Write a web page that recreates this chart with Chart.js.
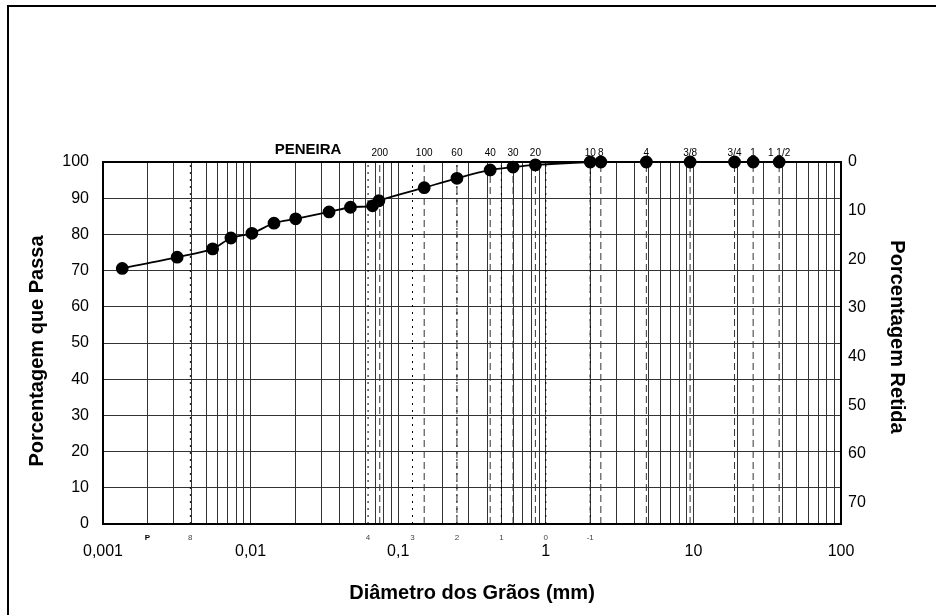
<!DOCTYPE html>
<html>
<head>
<meta charset="utf-8">
<script src="https://cdn.jsdelivr.net/npm/chart.js@4.4.1/dist/chart.umd.min.js"></script>
<style>
  html, body { margin: 0; padding: 0; background: #fff; }
  #wrap { width: 936px; height: 615px; }
</style>
</head>
<body>
<div id="wrap"><canvas id="curva"></canvas></div>
<script>
// curva granulometrica
const diametros = [0.00135, 0.00318, 0.00553, 0.00736, 0.0102, 0.0144, 0.0202, 0.034, 0.0475, 0.067, 0.074,
  0.15, 0.25, 0.42, 0.6, 0.85, 2.0, 2.36, 4.8, 9.5, 19, 25.4, 38.1];
const passante = [70.6, 73.7, 76.0, 79.0, 80.3, 83.1, 84.3, 86.2, 87.5, 87.9, 89.3,
  92.9, 95.5, 97.8, 98.6, 99.2, 100, 100, 100, 100, 100, 100, 100];

// peneiras (numero e abertura em mm)
const peneiras = ["200", "100", "60", "40", "30", "20", "10", "8", "4", "3/8", "3/4", "1", "1 1/2"];
const aberturas = [0.075, 0.15, 0.25, 0.42, 0.6, 0.85, 2.0, 2.36, 4.8, 9.5, 19, 25.4, 38.1];

// escala phi
const phiLabels = ["P", "8", "4", "3", "2", "1", "0", "-1"];
const phiDiam = [0.002, 0.00390625, 0.0625, 0.125, 0.25, 0.5, 1, 2];

const decadas = [0.001, 0.01, 0.1, 1, 10, 100];
const yTicks = [0, 10, 20, 30, 40, 50, 60, 70, 80, 90, 100];

const FONT = "'Liberation Sans', Arial, sans-serif";

const linhasPeneira = aberturas.map(a => ({
  data: [{ x: a, y: 0 }, { x: a, y: 100 }],
  showLine: true,
  borderColor: "#333",
  borderWidth: 1,
  borderDash: [7, 4],
  pointRadius: 0,
}));

const linhasPhi = phiDiam.slice(1).map(a => ({
  data: [{ x: a, y: 0 }, { x: a, y: 100 }],
  showLine: true,
  borderColor: "#000",
  borderWidth: 1,
  borderDash: [2, 5],
  pointRadius: 0,
}));

function tituloVertical(ctx, text, x, y, ang) {
  ctx.save();
  ctx.translate(x, y);
  ctx.rotate(ang);
  ctx.fillText(text, 0, 0);
  ctx.restore();
}

const moldura = {
  id: "moldura",
  beforeDraw(chart) {
    const { ctx, width, height } = chart;
    ctx.save();
    ctx.fillStyle = "#fff";
    ctx.fillRect(0, 0, width, height);
    ctx.strokeStyle = "#000";
    ctx.lineWidth = 2;
    ctx.beginPath();
    ctx.moveTo(8, height);
    ctx.lineTo(8, 6);
    ctx.lineTo(width, 6);
    ctx.stroke();
    ctx.restore();
  },
  afterDatasetsDraw(chart) {
    const { ctx, chartArea: a } = chart;
    ctx.save();
    ctx.strokeStyle = "#000";
    ctx.lineWidth = 2;
    ctx.strokeRect(a.left, a.top, a.right - a.left, a.bottom - a.top);
    ctx.restore();
  },
  afterDraw(chart) {
    const { ctx, chartArea: a } = chart;
    const x = chart.scales.x;
    ctx.save();
    ctx.fillStyle = "#000";
    ctx.textAlign = "center";
    ctx.textBaseline = "middle";
    ctx.font = "bold 15px " + FONT;
    ctx.fillText("PENEIRA", 308, a.top - 12);
    ctx.font = "10px " + FONT;
    peneiras.forEach((p, i) => {
      ctx.fillText(p, x.getPixelForValue(aberturas[i]), a.top - 9);
    });
    phiLabels.forEach((p, i) => {
      ctx.font = (p === "P" ? "bold 8px " : "8px ") + FONT;
      ctx.fillStyle = p === "P" ? "#000" : "#444";
      ctx.fillText(p, x.getPixelForValue(phiDiam[i]), a.bottom + 14);
    });
    // titulos dos eixos verticais
    ctx.fillStyle = "#000";
    ctx.font = "bold 20px " + FONT;
    tituloVertical(ctx, "Porcentagem que Passa", 37, 351, -Math.PI / 2);
    tituloVertical(ctx, "Porcentagem Retida", 897, 337, Math.PI / 2);
    ctx.restore();
  },
};

new Chart(document.getElementById("curva"), {
  type: "scatter",
  data: {
    datasets: [
      {
        data: diametros.map((d, i) => ({ x: d, y: passante[i] })),
        showLine: true,
        borderColor: "#000",
        borderWidth: 1.8,
        tension: 0.3,
        pointRadius: 5.5,
        pointBackgroundColor: "#000",
        pointBorderColor: "#000",
        clip: false,
      },
      ...linhasPeneira,
      ...linhasPhi,
    ],
  },
  options: {
    responsive: true,
    maintainAspectRatio: false,
    animation: false,
    events: [],
    layout: { padding: { top: 162, left: 0, right: 0, bottom: 0 } },
    plugins: { legend: { display: false }, tooltip: { enabled: false } },
    scales: {
      x: {
        type: "logarithmic",
        min: 0.001,
        max: 100,
        afterBuildTicks: (scale) => {
          const t = [];
          decadas.slice(0, -1).forEach(d => {
            for (let m = 1; m <= 9; m++) t.push({ value: +(m * d).toPrecision(3) });
          });
          t.push({ value: 100 });
          scale.ticks = t;
        },
        afterFit: (scale) => { scale.height = 91; },
        grid: { color: "#333", lineWidth: 1, drawTicks: false },
        border: { display: false },
        ticks: {
          autoSkip: false,
          maxRotation: 0,
          padding: 18,
          color: "#000",
          font: { family: FONT, size: 16 },
          callback: (v) => decadas.includes(v) ? String(v).replace(".", ",") : "",
        },
        title: {
          display: true,
          text: "Diâmetro dos Grãos (mm)",
          color: "#000",
          font: { family: FONT, size: 20, weight: "bold" },
          padding: { top: 0, bottom: 10 },
        },
      },
      y: {
        position: "left",
        min: 0,
        max: 100,
        afterBuildTicks: (scale) => { scale.ticks = yTicks.map(v => ({ value: v })); },
        afterFit: (scale) => { scale.width = 103; },
        grid: { color: "#333", lineWidth: 1, drawTicks: false },
        border: { display: false },
        ticks: { padding: 14, color: "#000", font: { family: FONT, size: 16 } },
      },
      y2: {
        position: "right",
        reverse: true,
        min: 0,
        max: 74.4,
        afterFit: (scale) => { scale.width = 95; },
        grid: { display: false, drawTicks: false },
        border: { display: false },
        ticks: { stepSize: 10, includeBounds: false, padding: 7, color: "#000", font: { family: FONT, size: 16 } },
      },
    },
  },
  plugins: [moldura],
});
</script>
</body>
</html>
